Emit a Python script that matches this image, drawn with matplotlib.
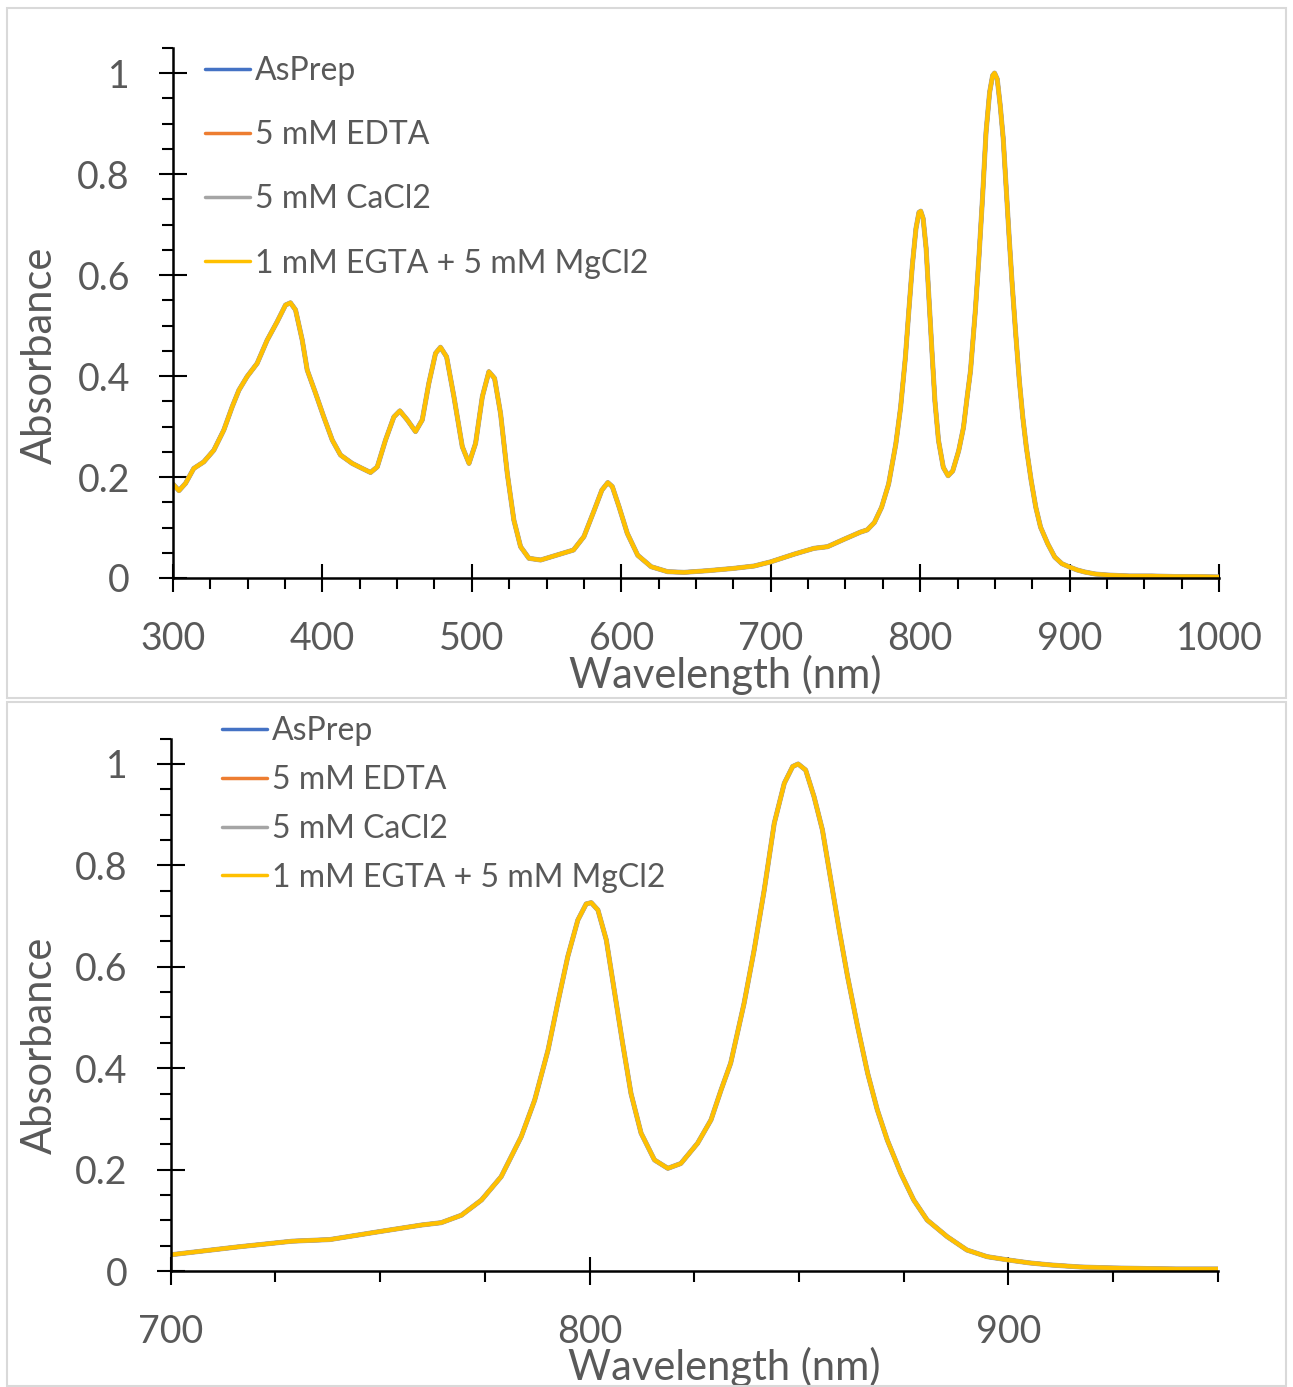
import numpy as np
import matplotlib
matplotlib.use("Agg")
import matplotlib.pyplot as plt
from matplotlib.ticker import FixedLocator, NullFormatter
from matplotlib.patches import Rectangle
from matplotlib.transforms import Bbox, TransformedBbox

plt.rcParams['font.family'] = ['Lato', 'DejaVu Sans']

# ---------------- data ----------------
wavelength = [300, 304, 308.4, 313.9, 320.6, 327.3, 334, 339.6, 344.1, 349.6, 356.3, 363,
              369.7, 375.3, 378.6, 382, 386.5, 389.8, 395.4, 400.9, 406.6, 412.1, 419.9,
              426.6, 432.2, 436.7, 442.2, 447.8, 451.8, 456.8, 462.3, 466.8, 471.2, 475.7,
              479, 483.1, 488, 493.6, 498.1, 502.5, 507, 511.4, 515.2, 519.2, 523.7, 528.1,
              532.6, 538.2, 546, 557, 568, 575, 582, 587, 591, 594, 598.5, 604, 611, 620,
              631, 642, 658, 675, 689, 700, 716, 729, 738, 749, 759.9, 764.6, 769.4, 774.2,
              778.9, 783.7, 786.9, 790.1, 792.4, 794.8, 797.2, 799.2, 800.4, 802, 804,
              805.9, 807.9, 809.9, 812.3, 815.5, 818.7, 821.8, 825.8, 829, 831.4, 833.7,
              836.9, 839.3, 841.7, 844.1, 846.5, 848.5, 849.8, 851.6, 853.6, 855.6, 857.6,
              859.6, 861.6, 864, 866.4, 868.7, 871.1, 874.3, 877.4, 880.6, 885.4, 890.1,
              894.9, 900, 905, 910, 917, 925, 940, 955, 970, 985, 1000]
absorb_base = [0.186, 0.173, 0.1875, 0.217, 0.230, 0.253, 0.293, 0.339, 0.372, 0.399, 0.425,
               0.471, 0.5075, 0.5406, 0.545, 0.531, 0.471, 0.412, 0.366, 0.319, 0.273,
               0.2436, 0.227, 0.217, 0.209, 0.220, 0.273, 0.319, 0.331, 0.313, 0.290, 0.313,
               0.3855, 0.445, 0.457, 0.438, 0.359, 0.260, 0.227, 0.2667, 0.359, 0.4086,
               0.3954, 0.326, 0.207, 0.1148, 0.062, 0.039, 0.0356, 0.0455, 0.0554, 0.082,
               0.135, 0.174, 0.189, 0.181, 0.141, 0.0885, 0.045, 0.0224, 0.0125, 0.0112,
               0.0145, 0.019, 0.0238, 0.032, 0.0475, 0.0588, 0.062, 0.0766, 0.0907, 0.0953,
               0.110, 0.140, 0.186, 0.265, 0.337, 0.436, 0.528, 0.620, 0.692, 0.724, 0.7265,
               0.712, 0.653, 0.554, 0.449, 0.350, 0.272, 0.219, 0.2025, 0.212, 0.252, 0.298,
               0.357, 0.410, 0.528, 0.633, 0.751, 0.883, 0.962, 0.995, 1.000, 0.988, 0.9355,
               0.870, 0.771, 0.673, 0.581, 0.482, 0.390, 0.318, 0.258, 0.193, 0.140, 0.1006,
               0.0677, 0.0414, 0.0283, 0.0217, 0.016, 0.012, 0.008, 0.006, 0.004, 0.004,
               0.003, 0.003, 0.002]

series_names = ["AsPrep", "5 mM EDTA", "5 mM CaCl2", "1 mM EGTA + 5 mM MgCl2"]
series_values = {
    "AsPrep": absorb_base,
    "5 mM EDTA": absorb_base,
    "5 mM CaCl2": absorb_base,
    "1 mM EGTA + 5 mM MgCl2": absorb_base,
}
series_colors = ["#4472C4", "#ED7D31", "#A5A5A5", "#FFC000"]

top_xticks = [300, 400, 500, 600, 700, 800, 900, 1000]
bot_xticks = [700, 800, 900]
yticks = [0, 0.2, 0.4, 0.6, 0.8, 1.0]
ytick_labels = ["0", "0.2", "0.4", "0.6", "0.8", "1"]

# ---------------- figure ----------------
W, H = 1293, 1387
fig = plt.figure(figsize=(W / 100, H / 100), dpi=100)
TXT = "#595959"

def fx(px):
    return px / W

def fy(py):
    return 1 - py / H

# chart-area borders
fig.patches.append(Rectangle((fx(7), fy(698)), fx(1286) - fx(7), fy(8) - fy(698),
                             transform=fig.transFigure, fill=False,
                             edgecolor="#d9d9d9", lw=1.5))
fig.patches.append(Rectangle((fx(7), fy(1386)), fx(1286) - fx(7), fy(702) - fy(1386),
                             transform=fig.transFigure, fill=False,
                             edgecolor="#d9d9d9", lw=1.5))

def make_axes(x0, x1, y0, ytop):
    return fig.add_axes([fx(x0), fy(y0), fx(x1) - fx(x0), fy(ytop) - fy(y0)])

ax1 = make_axes(173, 1219, 578, 47.8)
ax2 = make_axes(170.7, 1217.8, 1271, 738.6)

def style(ax, xmin, xmax, xticks, legend_xy, labelspacing, xlab_xy, ylab_xy):
    clip = TransformedBbox(Bbox([[xmin, -0.1], [xmax, 1.2]]), ax.transData)
    for name, col in zip(series_names, series_colors):
        lw = 3.6 if name == "5 mM CaCl2" else 3.0
        ln, = ax.plot(wavelength, series_values[name], color=col, lw=lw, label=name,
                      solid_joinstyle="round", solid_capstyle="round")
        ln.set_clip_box(clip)
    ax.set_xlim(xmin, xmax)
    ax.set_ylim(0, 1.05)
    for s in ["top", "right"]:
        ax.spines[s].set_visible(False)
    for s in ["left", "bottom"]:
        ax.spines[s].set_linewidth(1.8)
        ax.spines[s].set_color("black")
    ax.set_xticks(xticks)
    ax.set_xticklabels([str(t) for t in xticks])
    ax.set_yticks(yticks)
    ax.set_yticklabels(ytick_labels)
    xminor = [v for v in np.arange(xmin, xmax + 0.1, 25) if v not in xticks]
    yminor = [round(v, 2) for v in np.arange(0, 1.051, 0.05) if round(v, 2) not in yticks]
    ax.xaxis.set_minor_locator(FixedLocator(xminor))
    ax.yaxis.set_minor_locator(FixedLocator(yminor))
    ax.xaxis.set_minor_formatter(NullFormatter())
    ax.yaxis.set_minor_formatter(NullFormatter())
    ax.tick_params(which="major", direction="inout", length=20, width=1.5,
                   color="black", labelsize=27, labelcolor=TXT, pad=21)
    ax.tick_params(which="minor", direction="out", length=8, width=1.5, color="black")
    ax.set_xlabel("Wavelength (nm)", fontsize=30, color=TXT, va="center")
    ax.set_ylabel("Absorbance", fontsize=30, color=TXT, va="center")
    ax.xaxis.set_label_coords(*xlab_xy)
    ax.yaxis.set_label_coords(*ylab_xy)
    leg = ax.legend(loc="upper left", bbox_to_anchor=(fx(legend_xy[0]), fy(legend_xy[1])),
                    bbox_transform=fig.transFigure, frameon=False, fontsize=23,
                    handlelength=1.4, handletextpad=0.15, labelspacing=labelspacing,
                    borderpad=0, borderaxespad=0)
    for t in leg.get_texts():
        t.set_color(TXT)
    for h in leg.get_lines():
        h.set_linewidth(2.5)
    ax.patch.set_alpha(0)

style(ax1, 300, 1000, top_xticks, (205, 56), 1.07, (0.528, -0.182), (-0.127, 0.42))
style(ax2, 700, 950, bot_xticks, (222, 716), 0.59, (0.529, -0.181), (-0.125, 0.424))

fig.savefig("out.png", dpi=100)
